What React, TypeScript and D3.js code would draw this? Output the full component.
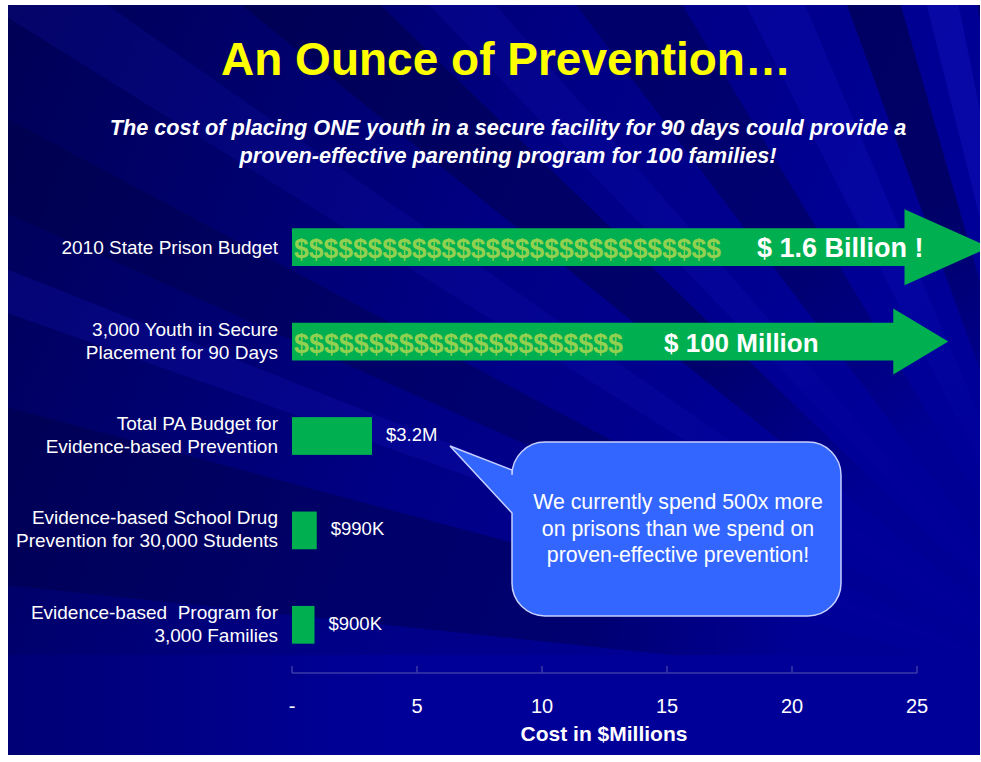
import * as d3 from 'd3';

const categories: string[][] = [
  ['2010 State Prison Budget'],
  ['3,000 Youth in Secure', 'Placement for 90 Days'],
  ['Total PA Budget for', 'Evidence-based Prevention'],
  ['Evidence-based School Drug', 'Prevention for 30,000 Students'],
  ['Evidence-based  Program for', '3,000 Families'],
];
// cost in $ millions
const values = [1600, 100, 3.2, 0.99, 0.9];
const valueLabels = ['$ 1.6 Billion !', '$ 100 Million', '$3.2M', '$990K', '$900K'];
// off-scale bars are drawn as broken arrows ending here (axis units)
const arrowEnds = [27.9, 26.25];
const dollarCounts = [29, 22];
const xTicks = [0, 5, 10, 15, 20, 25];

const title = 'An Ounce of Prevention\u2026';
const subtitle = [
  'The cost of placing ONE youth in a secure facility for 90 days could provide a',
  'proven-effective parenting program for 100 families!',
];
const calloutLines = [
  'We currently spend 500x more',
  'on prisons than we spend on',
  'proven-effective prevention!',
];

// decorative background rays: [start angle, end angle, colour, opacity]
const rays: [number, number, string, number][] = [
  [186, 195, '#000040', 0.4],
  [199.5, 201.5, '#1818c8', 0.22],
  [204, 208, '#000040', 0.35],
  [212, 215, '#1414c0', 0.18],
  [219, 224, '#000038', 0.4],
  [226, 229, '#1414c0', 0.2],
  [233, 239, '#000040', 0.4],
  [243, 247, '#1414c8', 0.25],
  [250, 254, '#000038', 0.5],
  [256, 258.5, '#1a1ad0', 0.3],
  [260, 263, '#000038', 0.5],
];

const FONT = 'Liberation Sans, Arial, Helvetica, sans-serif';

export default function App() {
  const W = 981;
  const H = 762;
  const slide = { x: 8, y: 5, w: 972, h: 750 };

  const x = d3.scaleLinear().domain([0, 25]).range([292, 917]);
  const y = d3
    .scaleBand<number>()
    .domain(values.map((_, i) => i))
    .range([200, 672])
    .paddingInner(0.6)
    .paddingOuter(0.3);
  const bw = y.bandwidth();
  const cy = (i: number) => (y(i) || 0) + bw / 2;

  const focus = [1100, 700];
  const rayPath = (a0: number, a1: number) => {
    const R = 2200;
    const r = (a: number) => (a * Math.PI) / 180;
    return d3.line()([
      [focus[0], focus[1]],
      [focus[0] + R * Math.cos(r(a0)), focus[1] + R * Math.sin(r(a0))],
      [focus[0] + R * Math.cos(r(a1)), focus[1] + R * Math.sin(r(a1))],
    ]) + 'Z';
  };

  // callout
  const cb = { x: 512, y: 442, w: 329, h: 174, r: 33 };
  const tip = [450, 446];
  const calloutPath = () => {
    const p = d3.path();
    p.moveTo(cb.x + cb.r, cb.y);
    p.lineTo(cb.x + cb.w - cb.r, cb.y);
    p.arcTo(cb.x + cb.w, cb.y, cb.x + cb.w, cb.y + cb.r, cb.r);
    p.lineTo(cb.x + cb.w, cb.y + cb.h - cb.r);
    p.arcTo(cb.x + cb.w, cb.y + cb.h, cb.x + cb.w - cb.r, cb.y + cb.h, cb.r);
    p.lineTo(cb.x + cb.r, cb.y + cb.h);
    p.arcTo(cb.x, cb.y + cb.h, cb.x, cb.y + cb.h - cb.r, cb.r);
    p.lineTo(cb.x, 513);
    p.lineTo(tip[0], tip[1]);
    p.lineTo(cb.x, 470);
    p.lineTo(cb.x, cb.y + cb.r);
    p.arcTo(cb.x, cb.y, cb.x + cb.r, cb.y, cb.r);
    p.closePath();
    return p.toString();
  };

  const headLen = [85, 55];
  const headHalf = [38, 33];
  const dollarW = [427, 329];
  const labelGap = [36, 41];

  return (
    <svg
      width={W}
      height={H}
      style={{ position: 'absolute', left: 0, top: 0, fontFamily: FONT }}
    >
      <defs>
        <clipPath id="slide-clip">
          <rect x={slide.x} y={slide.y} width={slide.w} height={slide.h} />
        </clipPath>
        <linearGradient id="bg-grad" x1="0" y1="0" x2="1" y2="0.35">
          <stop offset="0" stopColor="#000055" />
          <stop offset="0.55" stopColor="#000085" />
          <stop offset="1" stopColor="#000099" />
        </linearGradient>
        <linearGradient id="bottom-grad" x1="0" y1="0" x2="1" y2="0">
          <stop offset="0" stopColor="#000075" />
          <stop offset="0.4" stopColor="#000099" />
          <stop offset="1" stopColor="#000099" />
        </linearGradient>
        <radialGradient id="focus-grad" cx={focus[0]} cy={focus[1]} r={520} gradientUnits="userSpaceOnUse">
          <stop offset="0" stopColor="#000099" stopOpacity={1} />
          <stop offset="0.6" stopColor="#000099" stopOpacity={0.85} />
          <stop offset="1" stopColor="#000099" stopOpacity={0} />
        </radialGradient>
      </defs>
      <rect width={W} height={H} fill="#fff" />
      <g clipPath="url(#slide-clip)">
        <rect x={slide.x} y={slide.y} width={slide.w} height={slide.h} fill="url(#bg-grad)" />
        {rays.map(([a0, a1, c, o], i) => (
          <path key={i} d={rayPath(a0, a1)} fill={c} opacity={o} />
        ))}
        <rect x={slide.x} y={slide.y} width={slide.w} height={slide.h} fill="url(#focus-grad)" />
        <rect x={slide.x} y={655} width={slide.w} height={110} fill="url(#bottom-grad)" />

        {/* title */}
        <text x={506} y={75} textAnchor="middle" fontSize={46} fontWeight="bold" fill="#ffff00">
          {title}
        </text>
        {subtitle.map((s, i) => (
          <text
            key={i}
            x={508}
            y={135 + i * 28}
            textAnchor="middle"
            fontSize={21.7}
            fontWeight="bold"
            fontStyle="italic"
            fill="#fff"
          >
            {s}
          </text>
        ))}

        {/* category labels */}
        {categories.map((lines, i) => (
          <text
            key={i}
            textAnchor="end"
            fontSize={19}
            fill="#fff"
            style={{ whiteSpace: 'pre' }}
          >
            {lines.map((l, j) => (
              <tspan
                key={j}
                x={278}
                y={lines.length === 1 ? cy(i) + 7 : cy(i) - 6 + j * 23}
              >
                {l}
              </tspan>
            ))}
          </text>
        ))}

        {/* bars */}
        {values.map((v, i) => {
          const top = y(i) || 0;
          const c = cy(i);
          if (v > 25) {
            const end = x(arrowEnds[i]);
            const hs = end - headLen[i];
            const pts: [number, number][] = [
              [x(0), top],
              [hs, top],
              [hs, c - headHalf[i]],
              [end, c],
              [hs, c + headHalf[i]],
              [hs, top + bw],
              [x(0), top + bw],
            ];
            return (
              <g key={i}>
                <path d={d3.line()(pts) + 'Z'} fill="#00b050" />
                <text
                  x={x(0) + 2}
                  y={c + 11}
                  fontSize={28}
                  fontWeight="bold"
                  fill="#92d050"
                  textLength={dollarW[i]}
                  lengthAdjust="spacingAndGlyphs"
                >
                  {'$'.repeat(dollarCounts[i])}
                </text>
                <text
                  x={x(0) + 2 + dollarW[i] + labelGap[i]}
                  y={c + 10}
                  fontSize={i === 0 ? 27 : 26}
                  fontWeight="bold"
                  fill="#fff"
                >
                  {valueLabels[i]}
                </text>
              </g>
            );
          }
          return (
            <g key={i}>
              <rect x={x(0)} y={top} width={x(v) - x(0)} height={bw} fill="#00b050" />
              <text x={x(v) + 14} y={c + 5} fontSize={18.5} fill="#fff">
                {valueLabels[i]}
              </text>
            </g>
          );
        })}

        {/* x axis */}
        <g stroke="#3a3aa8" strokeWidth={1.5} fill="none">
          <line x1={x(0)} x2={x(25)} y1={673} y2={673} />
          {xTicks.map((t) => (
            <line key={t} x1={x(t)} x2={x(t)} y1={666} y2={673} />
          ))}
        </g>
        {xTicks.map((t) => (
          <text key={t} x={x(t)} y={713} textAnchor="middle" fontSize={20} fill="#fff">
            {t === 0 ? '-' : t}
          </text>
        ))}
        <text x={604} y={741} textAnchor="middle" fontSize={21} fontWeight="bold" fill="#fff">
          Cost in $Millions
        </text>

        {/* callout */}
        <path d={calloutPath()} fill="#3366ff" stroke="#c8d0ff" strokeWidth={1.5} />
        {calloutLines.map((l, i) => (
          <text
            key={i}
            x={678}
            y={509 + i * 26.5}
            textAnchor="middle"
            fontSize={21.3}
            fill="#fff"
          >
            {l}
          </text>
        ))}
      </g>
    </svg>
  );
}
